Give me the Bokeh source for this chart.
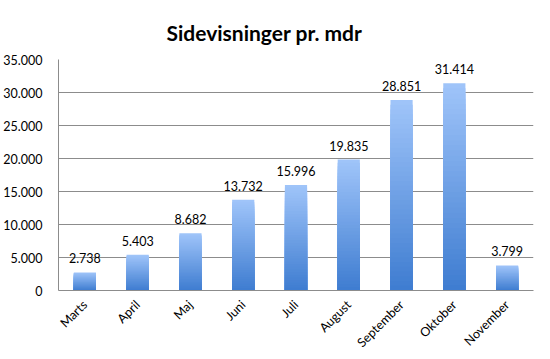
import math
from bokeh.plotting import figure
from bokeh.models import ColumnDataSource, Range1d, FixedTicker, CustomJSTickFormatter
from bokeh.core.properties import value
from bokeh.embed import file_html
from bokeh.resources import INLINE

# ---- data ----
months = ["Marts", "April", "Maj", "Juni", "Juli", "August", "September", "Oktober", "November"]
views = [2738, 5403, 8682, 13732, 15996, 19835, 28851, 31414, 3799]
y_ticks = [0, 5000, 10000, 15000, 20000, 25000, 30000, 35000]
title_text = "Sidevisninger pr. mdr"

FONT = "Lato"
TOP_RGB = (160, 197, 250)
BOT_RGB = (62, 124, 208)
N = 40

p = figure(width=550, height=359, x_range=months, y_range=Range1d(0, 35000),
           output_backend="svg", toolbar_location=None,
           min_border_left=57, min_border_right=17, min_border_top=59, min_border_bottom=69)

p.title.text = title_text
p.title.align = "left"
p.title.text_font = FONT
p.title.text_font_size = "21px"
p.title.text_font_style = "bold"
p.title.text_color = "#000000"
p.title.standoff = 29
p.title.offset = 108

# gradient bars: stacked overlapping bars from lightest (full height) to darkest (short)
xs, tops, colors = [], [], []
for k in range(N, 0, -1):
    f = k / N
    c = tuple(int(round(BOT_RGB[j] + (TOP_RGB[j] - BOT_RGB[j]) * (k - 0.5) / N)) for j in range(3))
    col = "#%02x%02x%02x" % c
    for m, v in zip(months, views):
        xs.append(m)
        tops.append(v * f)
        colors.append(col)
src = ColumnDataSource(dict(x=xs, top=tops, color=colors))
p.vbar(x="x", top="top", bottom=0, width=0.42, fill_color="color", line_color=None, source=src)

# value labels
lab = ColumnDataSource(dict(x=months, y=views, t=[f"{v:,}".replace(",", ".") for v in views]))
p.text(x="x", y="y", text="t", source=lab, text_align="center", text_baseline="bottom",
       y_offset=-9, text_font=value(FONT), text_font_size="12.5px", text_color="#000000")

# axes
p.yaxis.ticker = FixedTicker(ticks=y_ticks)
p.yaxis.formatter = CustomJSTickFormatter(code="""
    return Math.round(tick).toString().replace(/\\B(?=(\\d{3})+(?!\\d))/g, '.');
""")
for ax in (p.xaxis, p.yaxis):
    ax.axis_line_color = "#8c8c8c"
    ax.major_tick_line_color = None
    ax.minor_tick_line_color = None
    ax.major_label_text_font = FONT
    ax.major_label_text_font_size = "12.5px"
    ax.major_label_text_color = "#000000"
p.yaxis.major_label_standoff = 10
p.xaxis.major_label_orientation = math.pi / 4
p.xaxis.major_label_standoff = 6

p.xgrid.grid_line_color = None
p.ygrid.grid_line_color = "#8c8c8c"
p.ygrid.grid_line_width = 1
p.outline_line_color = None
p.x_range.range_padding = 0

open("out.html", "w").write(file_html(p, INLINE))
